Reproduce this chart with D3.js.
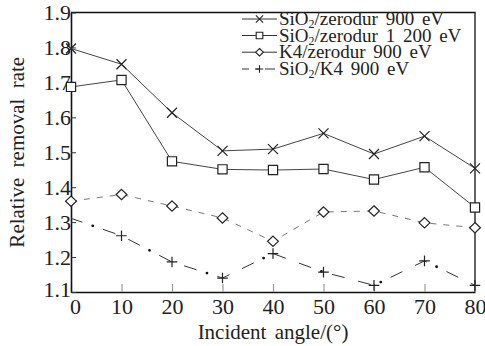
<!DOCTYPE html>
<html>
<head>
<meta charset="utf-8">
<script src="https://cdn.jsdelivr.net/npm/d3@7"></script>
<style>
  body { margin: 0; background: #fff; }
  svg text { font-family: "Liberation Serif", "Times New Roman", Times, serif !important; fill: #222; }
</style>
</head>
<body>
<div id="chart"></div>
<script>
// donnees
const angles = [0, 10, 20, 30, 40, 50, 60, 70, 80];
const sio2Zerodur900 = [1.797, 1.752, 1.613, 1.504, 1.509, 1.554, 1.495, 1.546, 1.454];
const sio2Zerodur1200 = [1.687, 1.707, 1.474, 1.451, 1.449, 1.452, 1.422, 1.457, 1.342];
const k4Zerodur900 = [1.360, 1.379, 1.346, 1.312, 1.245, 1.329, 1.332, 1.298, 1.284];
const sio2K4900 = [1.311, 1.261, 1.186, 1.140, 1.210, 1.157, 1.119, 1.189, 1.119];
const yTicks = [1.1, 1.2, 1.3, 1.4, 1.5, 1.6, 1.7, 1.8, 1.9];
const xTicks = [0, 10, 20, 30, 40, 50, 60, 70, 80];

const width = 485, height = 346;
const margin = { top: 12.5, right: 10, bottom: 54, left: 71 };

const svg = d3.select("#chart")
  .append("svg")
  .attr("width", width)
  .attr("height", height);

const x = d3.scaleLinear().domain([0, 80]).range([margin.left, width - margin.right]);
const y = d3.scaleLinear().domain([1.1, 1.9]).range([height - margin.bottom, margin.top]);

// formes des marqueurs (traits seuls)
function marker(type, s) {
  if (type === "times") return `M${-s},${-s}L${s},${s}M${-s},${s}L${s},${-s}`;
  if (type === "square") return `M${-s},${-s}H${s}V${s}H${-s}Z`;
  if (type === "diamond") return `M0,${-s * 1.1}L${s * 1.15},0L0,${s * 1.1}L${-s * 1.15},0Z`;
  if (type === "plus") return `M${-s},0H${s}M0,${-s}V${s}`;
}

const series = [
  { name: ["SiO", "2", "/zerodur 900 eV"], values: sio2Zerodur900, shape: "times", size: 5, color: "#444", dash: null },
  { name: ["SiO", "2", "/zerodur 1 200 eV"], values: sio2Zerodur1200, shape: "square", size: 4.6, color: "#444", dash: null },
  { name: ["", "", "K4/zerodur 900 eV"], values: k4Zerodur900, shape: "diamond", size: 4.7, color: "#777", dash: "6,7" },
  { name: ["SiO", "2", "/K4 900 eV"], values: sio2K4900, shape: "plus", size: 5.3, color: "#333", dash: "dashdot", skipFirst: true }
];

// axes
const yAxis = d3.axisLeft(y).tickValues(yTicks).tickFormat(d3.format(".1f"))
  .tickSizeInner(-5).tickSizeOuter(0).tickPadding(0);
const xAxis = d3.axisBottom(x).tickValues(xTicks).tickFormat(d3.format("d"))
  .tickSizeInner(-8).tickSizeOuter(0).tickPadding(6);

// cadre haut et droite
svg.append("path")
  .attr("d", `M${x(0)},${y(1.9)}H${x(80)}V${y(1.1)}`)
  .attr("fill", "none").attr("stroke", "#111").attr("stroke-width", 1.3);

const gx = svg.append("g")
  .attr("transform", `translate(0,${y(1.1)})`)
  .call(xAxis);
gx.select(".domain").attr("stroke", "#111").attr("stroke-width", 1.6);
gx.selectAll(".tick line").attr("stroke", "#999").attr("stroke-width", 1.2);
gx.selectAll(".tick text").style("font-size", "22px").attr("fill", "#222")
  .attr("dx", d => d === 0 ? 4 : 0);

const gy = svg.append("g")
  .attr("transform", `translate(${x(0)},0)`)
  .call(yAxis);
gy.select(".domain").attr("stroke", "#111").attr("stroke-width", 1.6);
gy.selectAll(".tick line").attr("stroke", "#333");
gy.selectAll(".tick text").style("font-size", "22px").attr("fill", "#222")
  .attr("dy", d => d === 1.1 ? "0.2em" : "0.32em");

// titres des axes
svg.append("text")
  .attr("x", (x(0) + x(80)) / 2)
  .attr("y", 339)
  .attr("text-anchor", "middle")
  .style("font-size", "21px")
  .style("word-spacing", "3px")
  .text("Incident angle/(°)");

svg.append("text")
  .attr("transform", `translate(24,${(y(1.1) + y(1.9)) / 2}) rotate(-90)`)
  .attr("text-anchor", "middle")
  .style("font-size", "21px")
  .style("word-spacing", "5px")
  .text("Relative removal rate");

const line = d3.line()
  .x((d, i) => x(angles[i]))
  .y(d => y(d));

series.forEach(s => {
  if (s.dash === "dashdot") {
    svg.append("path").datum(s.values)
      .attr("d", line).attr("fill", "none")
      .attr("stroke", s.color).attr("stroke-width", 1)
      .attr("stroke-dasharray", "13,14,13,22").attr("stroke-dashoffset", 28);
    svg.append("path").datum(s.values)
      .attr("d", line).attr("fill", "none")
      .attr("stroke", "#111").attr("stroke-width", 2.8)
      .attr("stroke-linecap", "round")
      .attr("stroke-dasharray", "0,62").attr("stroke-dashoffset", 39);
  } else {
    svg.append("path").datum(s.values)
      .attr("d", line).attr("fill", "none")
      .attr("stroke", s.color).attr("stroke-width", 1)
      .attr("stroke-dasharray", s.dash);
  }
  svg.append("g").selectAll("path")
    .data(s.values.map((v, i) => ({ a: angles[i], v: v, i: i })).filter(d => !(s.skipFirst && d.i === 0)))
    .join("path")
    .attr("transform", d => `translate(${x(d.a)},${y(d.v)})`)
    .attr("d", marker(s.shape, s.size))
    .attr("fill", "#fff")
    .attr("fill-opacity", s.shape === "times" || s.shape === "plus" ? 0 : 1)
    .attr("stroke", "#222")
    .attr("stroke-width", 1.2);
});

// legende
const legend = svg.append("g");
const legendY = [19, 35.5, 52.2, 69];
series.forEach((s, i) => {
  const ly = legendY[i];
  const g = legend.append("g").attr("transform", `translate(0,${ly})`);
  g.append("path")
    .attr("d", "M242,0H277")
    .attr("stroke", "#333").attr("stroke-width", 1)
    .attr("stroke-dasharray", s.dash === "dashdot" ? "7,6,4,6,10" : null);
  g.append("path")
    .attr("transform", "translate(259.5,0)")
    .attr("d", marker(s.shape, s.size * 0.72))
    .attr("fill", "#fff")
    .attr("fill-opacity", s.shape === "times" || s.shape === "plus" ? 0 : 1)
    .attr("stroke", "#222").attr("stroke-width", 1.1);
  const t = g.append("text")
    .attr("x", 279).attr("y", 6)
    .style("font-size", "19px")
    .style("word-spacing", "3px");
  if (s.name[0]) t.append("tspan").text(s.name[0]);
  if (s.name[1]) t.append("tspan").attr("dy", 3).style("font-size", "12px").text(s.name[1]);
  t.append("tspan").attr("dy", s.name[1] ? -3 : 0).text(s.name[2]);
});
</script>
</body>
</html>
